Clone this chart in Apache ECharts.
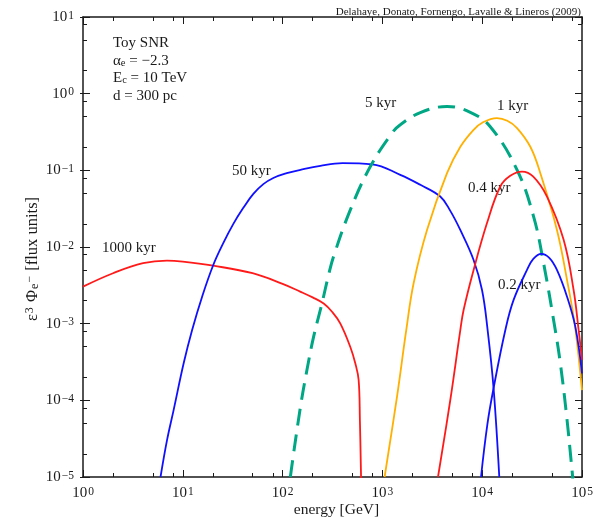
<!DOCTYPE html>
<html><head><meta charset="utf-8">
<script src="https://cdn.jsdelivr.net/npm/echarts@6/dist/echarts.min.js"></script>
<style>html,body{margin:0;padding:0;background:#fff}#c{width:598px;height:524px}</style>
</head><body><div id="c"></div>
<script>
// ---- data (energy in GeV, flux in flux units) ----
const energy_1000kyr = [1, 2, 4, 6.94, 10, 20.2, 50, 100, 150, 200, 258, 313, 378, 476, 535, 578, 595, 612];
const flux_1000kyr   = [3.04e-3, 4.55e-3, 6.15e-3, 6.65e-3, 6.45e-3, 5.7e-3, 4.55e-3, 3.3e-3, 2.62e-3, 2.2e-3, 1.83e-3, 1.43e-3, 1.01e-3, 5.0e-4, 3.04e-4, 1.84e-4, 5.5e-5, 9e-6];

const energy_50kyr = [5.98, 6.95, 8.09, 10.2, 12.4, 15.7, 20.2, 25.5, 32.1, 40.4, 50.9, 64.1, 80.7, 110, 151, 239, 398, 792, 1510, 2400, 3800, 4790, 6030, 8200, 9960, 11330, 13000, 14830];
const flux_50kyr   = [1e-5, 3.03e-5, 7.46e-5, 3.04e-4, 8.28e-4, 2.3e-3, 5.83e-3, 1.13e-2, 2.0e-2, 3.24e-2, 4.93e-2, 6.6e-2, 7.95e-2, 9.18e-2, 0.1016, 0.1146, 0.124, 0.1197, 8.73e-2, 6.47e-2, 4.55e-2, 2.96e-2, 1.67e-2, 6.78e-3, 2.75e-3, 8.28e-4, 1.44e-4, 1e-5];

const energy_5kyr = [119.5, 150.4, 175.5, 204.6, 248.2, 289, 324, 477, 757, 1248, 1511, 2400, 4440, 7600, 12050, 22340, 32740, 41220, 53950, 60670, 69660, 79430, 80900];
const flux_5kyr   = [1e-5, 8e-5, 2.5e-4, 6.76e-4, 1.85e-3, 4.33e-3, 7.5e-3, 3.05e-2, 0.112, 0.306, 0.393, 0.566, 0.681, 0.570, 0.37, 0.1016, 2.49e-2, 6.15e-3, 8.28e-4, 3.04e-4, 6.8e-5, 1.23e-5, 9.1e-6];

const energy_1kyr = [1052, 1400, 1735, 2055, 2800, 4440, 6040, 8200, 10190, 14060, 17850, 22340, 30360, 38220, 56100, 70800, 82400, 89700, 100000];
const flux_1kyr   = [1e-5, 1.11e-4, 8.28e-4, 3.37e-3, 1.67e-2, 9.18e-2, 0.203, 0.338, 0.424, 0.48, 0.443, 0.356, 0.203, 9.18e-2, 1.67e-2, 3.72e-3, 1.23e-3, 5.28e-4, 1.36e-4];

const energy_04kyr = [3606, 4790, 6040, 6510, 8200, 11170, 15170, 19100, 25060, 32500, 44570, 65460, 82400, 92470, 100000];
const flux_04kyr   = [1e-5, 1.01e-4, 8.28e-4, 1.51e-3, 5.02e-3, 2.05e-2, 6.15e-2, 8.47e-2, 9.64e-2, 8.28e-2, 4.55e-2, 1.24e-2, 2.75e-3, 8.28e-4, 3.37e-4];

const energy_02kyr = [9730, 11250, 13000, 17060, 20640, 28120, 32520, 39080, 46990, 56100, 70800, 85700, 100000];
const flux_02kyr   = [1e-5, 4.8e-5, 1.44e-4, 8.28e-4, 2.04e-3, 5.02e-3, 7.0e-3, 8.13e-3, 7.22e-3, 5.02e-3, 2.25e-3, 9.14e-4, 2.25e-4];

const seriesNames = ['1000 kyr', '50 kyr', '5 kyr', '1 kyr', '0.4 kyr', '0.2 kyr'];
const xExponents = [0, 1, 2, 3, 4, 5];
const yExponents = [-5, -4, -3, -2, -1, 0, 1];
const minorMultipliers = [2, 5, 8];

const annotationLines = ['Toy SNR', 'α{sub|e} = −2.3', 'E{sub|c} = 10 TeV', 'd = 300 pc'];
const credit = 'Delahaye, Donato, Fornengo, Lavalle & Lineros (2009)';

// ---- build ----
const FONT = 'Liberation Serif';
const TXT = '#1a1a1a';
function pairs(e, f) { return e.map((v, i) => [v, f[i]]); }
function expStr(n) { return n < 0 ? '−' + (-n) : String(n); }
function powLabel(v) { return '{b|10}{s|' + expStr(Math.round(Math.log10(v))) + '}'; }
const labelRich = {
  b: { fontFamily: FONT, fontSize: 15, lineHeight: 15, verticalAlign: 'bottom', color: TXT },
  s: { fontFamily: FONT, fontSize: 11.5, lineHeight: 10, padding: [0, 0, 8, 1], verticalAlign: 'top', color: TXT }
};
function minorVals(exps) {
  const out = [];
  for (let i = 0; i < exps.length - 1; i++) minorMultipliers.forEach(m => out.push(exps[i] + Math.log10(m)));
  return out;
}
const axisCol = '#1a1a1a';
const majorTick = { show: true, inside: true, length: 7, lineStyle: { color: axisCol, width: 1 } };
const outTick = { show: true, inside: false, length: 3, lineStyle: { color: axisCol, width: 1 } };
const minorTickStyle = (vals) => ({ show: true, inside: true, length: 4, customValues: vals, lineStyle: { color: axisCol, width: 1 } });
const frameLine = { show: true, onZero: false, lineStyle: { color: axisCol, width: 1.5 } };
const noLine = { show: false, onZero: false };
const xLo = xExponents[0], xHi = xExponents[xExponents.length - 1];
const yLo = yExponents[0], yHi = yExponents[yExponents.length - 1];
const hidden = { axisLabel: { show: false }, splitLine: { show: false } };

const option = {
  animation: false,
  backgroundColor: '#fff',
  grid: { left: 83, right: 16, top: 17, bottom: 47, containLabel: false, outerBoundsMode: 'none' },
  xAxis: [
    { type: 'log', logBase: 10, min: Math.pow(10, xLo), max: Math.pow(10, xHi), position: 'bottom',
      axisLine: frameLine, axisTick: majorTick, splitLine: { show: false }, minorTick: { show: false },
      axisLabel: { formatter: powLabel, rich: labelRich, margin: 9 },
      name: 'energy [GeV]', nameLocation: 'middle', nameGap: 25, nameMoveOverlap: false,
      nameTextStyle: { fontFamily: FONT, fontSize: 15.5, color: TXT, padding: [0, 0, 0, 8] } },
    { type: 'value', min: xLo, max: xHi, position: 'bottom', axisLine: noLine,
      axisTick: minorTickStyle(minorVals(xExponents)), ...hidden },
    { type: 'value', min: xLo, max: xHi, interval: 1, position: 'top', axisLine: frameLine,
      axisTick: majorTick, ...hidden },
    { type: 'value', min: xLo, max: xHi, position: 'top', axisLine: noLine,
      axisTick: minorTickStyle(minorVals(xExponents)), ...hidden }
  ],
  yAxis: [
    { type: 'log', logBase: 10, min: Math.pow(10, yLo), max: Math.pow(10, yHi), position: 'left',
      axisLine: frameLine, axisTick: majorTick, splitLine: { show: false }, minorTick: { show: false },
      axisLabel: { formatter: powLabel, rich: labelRich, margin: 9 },
      name: '{n|ε}{sup|3}{n| Φ}{sub|e}{sup|−}{n| [flux units]}', nameLocation: 'middle', nameGap: 42, nameMoveOverlap: false,
      nameTextStyle: { fontFamily: FONT, fontSize: 16, color: TXT, padding: [0, 24, 0, 0], rich: {
        n: { fontFamily: FONT, fontSize: 16.5, lineHeight: 17, color: TXT },
        sup: { fontFamily: FONT, fontSize: 12, lineHeight: 11, padding: [0, 1, 9, 1], verticalAlign: 'top', color: TXT },
        sub: { fontFamily: FONT, fontSize: 12, lineHeight: 11, padding: [8, 0, 0, 1], verticalAlign: 'bottom', color: TXT }
      } } },
    { type: 'value', min: yLo, max: yHi, position: 'left', axisLine: noLine,
      axisTick: minorTickStyle(minorVals(yExponents)), ...hidden },
    { type: 'value', min: yLo, max: yHi, interval: 1, position: 'left', axisLine: noLine,
      axisTick: outTick, ...hidden },
    { type: 'value', min: yLo, max: yHi, interval: 1, position: 'right', axisLine: frameLine,
      axisTick: majorTick, ...hidden },
    { type: 'value', min: yLo, max: yHi, position: 'right', axisLine: noLine,
      axisTick: minorTickStyle(minorVals(yExponents)), ...hidden }
  ],
  series: [
    { name: seriesNames[0], data: pairs(energy_1000kyr, flux_1000kyr), color: '#ff1a1a' },
    { name: seriesNames[1], data: pairs(energy_50kyr, flux_50kyr), color: '#1010ff' },
    { name: seriesNames[2], data: pairs(energy_5kyr, flux_5kyr), color: '#00a784', dashed: true },
    { name: seriesNames[3], data: pairs(energy_1kyr, flux_1kyr), color: '#ffb000' },
    { name: seriesNames[4], data: pairs(energy_04kyr, flux_04kyr), color: '#ff1a1a' },
    { name: seriesNames[5], data: pairs(energy_02kyr, flux_02kyr), color: '#1010ff' }
  ].map(s => ({
    type: 'line', name: s.name, data: s.data, xAxisIndex: 0, yAxisIndex: 0,
    showSymbol: false, symbol: 'none', smooth: 0.4, clip: true,
    lineStyle: { color: s.color, width: s.dashed ? 3 : 1.8, type: s.dashed ? [17, 9] : 'solid' },
    emphasis: { disabled: true }
  })),
  graphic: [
    { type: 'text', x: 581, y: 12, style: { text: credit, fontFamily: FONT, fontSize: 11, fill: TXT, align: 'right', verticalAlign: 'middle' } },
    ...annotationLines.map((t, i) => ({ type: 'text', x: 113, y: 43.5 + i * 17.4,
      style: { text: t, fontFamily: FONT, fontSize: 15, fill: TXT, align: 'left', verticalAlign: 'middle',
        rich: {
          sub: { fontFamily: FONT, fontSize: 10.5, lineHeight: 10, padding: [8, 0, 0, 0], verticalAlign: 'bottom', fill: TXT }
        } } })),
    ...[
      [seriesNames[2], 365, 103.5], [seriesNames[3], 497, 106.5], [seriesNames[1], 232, 171.5],
      [seriesNames[0], 102, 248.5], [seriesNames[4], 468, 188.5], [seriesNames[5], 498, 285]
    ].map(([t, x, y]) => ({ type: 'text', x: x, y: y,
      style: { text: t, fontFamily: FONT, fontSize: 15, fill: TXT, align: 'left', verticalAlign: 'middle' } }))
  ]
};
const chart = echarts.init(document.getElementById('c'), null, { renderer: 'canvas' });
chart.setOption(option);
</script></body></html>
